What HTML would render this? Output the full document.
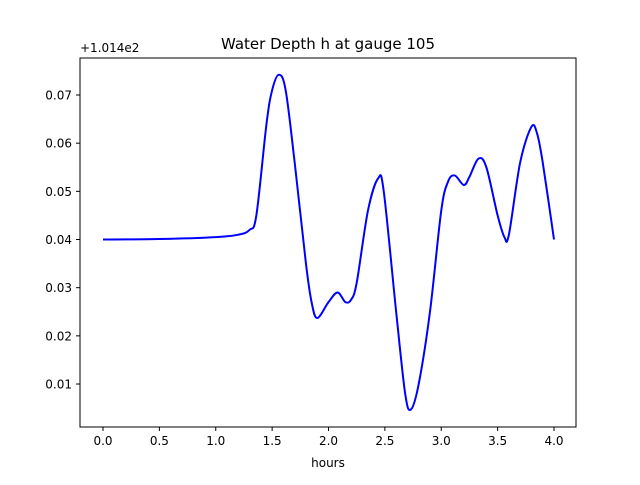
<!DOCTYPE html>
<html><head><meta charset="utf-8">
<style>
body{margin:0;background:#fff;}
svg text{font-family:"DejaVu Sans","Liberation Sans",sans-serif;fill:#000;}
</style></head>
<body>
<svg id="chart" width="640" height="480" xmlns="http://www.w3.org/2000/svg">
<rect width="640" height="480" fill="#fff"/>
<text x="328" y="49" font-size="15" text-anchor="middle">Water Depth h at gauge 105</text>
<text x="80" y="52" font-size="12">+1.014e2</text>
<g id="xt"></g><g id="yt"></g>
<path id="line" fill="none" stroke="#0000ff" stroke-width="2"/>
<rect x="80" y="58" width="496" height="369" fill="none" stroke="#000" stroke-width="1"/>
<text x="328" y="467" font-size="12" text-anchor="middle">hours</text>
</svg>
<script>
const xTicks=[0,0.5,1,1.5,2,2.5,3,3.5,4];
const xTickLabels=["0.0","0.5","1.0","1.5","2.0","2.5","3.0","3.5","4.0"];
const yTicks=[0.01,0.02,0.03,0.04,0.05,0.06,0.07];
const yTickLabels=["0.01","0.02","0.03","0.04","0.05","0.06","0.07"];
const hours=[0,0.5,1.0,1.2,1.3,1.36,1.45,1.5,1.56,1.62,1.7,1.8,1.85,1.9,2.0,2.08,2.15,2.2,2.25,2.35,2.44,2.49,2.6,2.68,2.73,2.8,2.9,3.0,3.06,3.12,3.2,3.25,3.33,3.4,3.5,3.56,3.6,3.7,3.8,3.85,3.9,4.0];
const depth=[0.040,0.0401,0.0405,0.041,0.042,0.045,0.064,0.071,0.0742,0.071,0.056,0.035,0.027,0.0237,0.027,0.029,0.027,0.0275,0.031,0.046,0.0527,0.050,0.025,0.008,0.0047,0.010,0.025,0.046,0.052,0.0533,0.0513,0.053,0.0568,0.055,0.045,0.0405,0.041,0.056,0.0634,0.062,0.056,0.040];
const sx=v=>103+v*112.75;
const sy=v=>95+(0.07-v)*4817;
const NS="http://www.w3.org/2000/svg";
const xt=document.getElementById('xt'),yt=document.getElementById('yt');
xTicks.forEach((t,i)=>{
 const l=document.createElementNS(NS,'line');
 l.setAttribute('x1',sx(t));l.setAttribute('x2',sx(t));l.setAttribute('y1',427);l.setAttribute('y2',431);l.setAttribute('stroke','#000');
 
 
 xt.appendChild(l);
 const tx=document.createElementNS(NS,'text');
 tx.setAttribute('x',sx(t));tx.setAttribute('y',445);tx.setAttribute('font-size','12');tx.setAttribute('text-anchor','middle');
 tx.textContent=xTickLabels[i];
 
 
 xt.appendChild(tx);
});
yTicks.forEach((t,i)=>{
 const l=document.createElementNS(NS,'line');
 l.setAttribute('x1',76);l.setAttribute('x2',80);l.setAttribute('y1',sy(t));l.setAttribute('y2',sy(t));l.setAttribute('stroke','#000');
 
 
 yt.appendChild(l);
 const tx=document.createElementNS(NS,'text');
 tx.setAttribute('x',72);tx.setAttribute('y',sy(t)+4.5);tx.setAttribute('font-size','12');tx.setAttribute('text-anchor','end');
 tx.textContent=yTickLabels[i];
 
 
 yt.appendChild(tx);
});
const P=hours.map((h,i)=>[sx(h),sy(depth[i])]);
let d=`M${P[0][0]},${P[0][1]}`;
for(let i=0;i<P.length-1;i++){
 const p0=P[Math.max(0,i-1)],p1=P[i],p2=P[i+1],p3=P[Math.min(P.length-1,i+2)];
 const c1=[p1[0]+(p2[0]-p0[0])/6,p1[1]+(p2[1]-p0[1])/6];
 const c2=[p2[0]-(p3[0]-p1[0])/6,p2[1]-(p3[1]-p1[1])/6];
 d+=` C${c1[0]},${c1[1]} ${c2[0]},${c2[1]} ${p2[0]},${p2[1]}`;
}
document.getElementById('line').setAttribute('d',d);
</script>
</body></html>
